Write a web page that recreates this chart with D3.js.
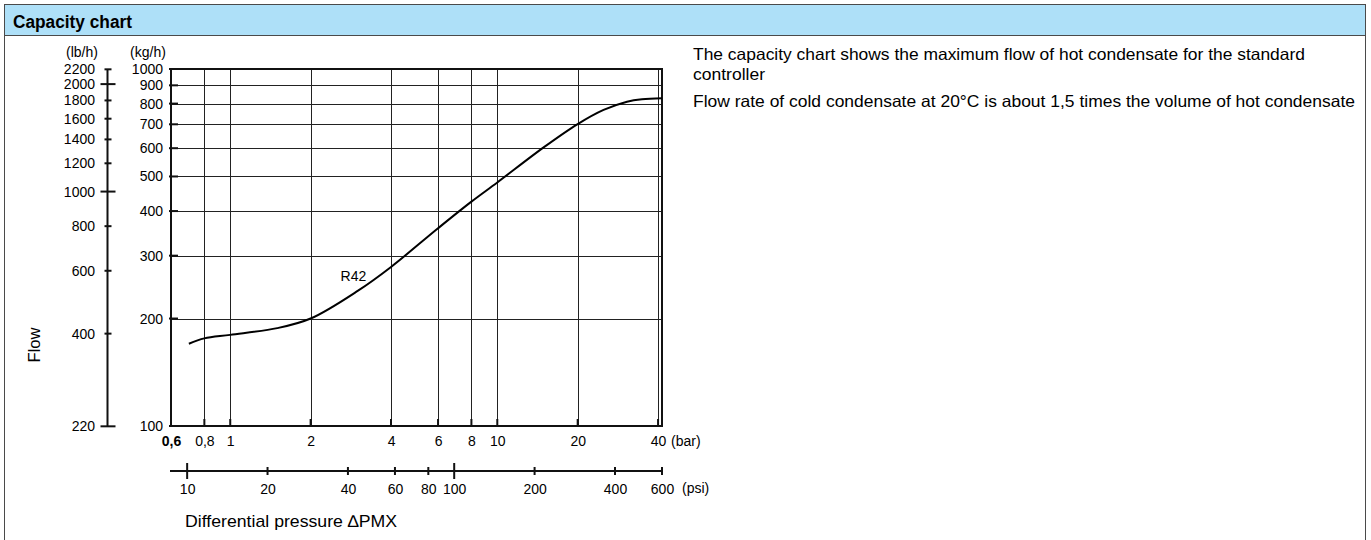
<!DOCTYPE html>
<html>
<head>
<meta charset="utf-8">
<script src="https://cdn.jsdelivr.net/npm/d3@7"></script>
<style>
  html, body { margin: 0; padding: 0; background: #fff; }
  svg { display: block; font-family: "Liberation Sans", Arial, sans-serif; }
</style>
</head>
<body>
<svg id="chart" width="1371" height="540"></svg>
<script>
// ---- data ----
const barTicks = [0.6, 0.8, 1, 2, 4, 6, 8, 10, 20, 40];
const barLabels = ["0,6", "0,8", "1", "2", "4", "6", "8", "10", "20", "40"];
const psiTicks = [10, 20, 40, 60, 80, 100, 200, 400, 600];
const psiLabels = ["10", "20", "40", "60", "80", "100", "200", "400", "600"];
const psiMajor = [10, 100];
const kgTicks = [100, 200, 300, 400, 500, 600, 700, 800, 900, 1000];
const lbTicks = [220, 400, 600, 800, 1000, 1200, 1400, 1600, 1800, 2000, 2200];
const lbMajor = [220, 1000, 2000];
const curveBar = [0.70, 0.80, 1.0, 1.5, 2.0, 3.0, 4.0, 6.0, 8.0, 10.0, 15.0, 20.0, 25.0, 30.6, 34.8, 41.38];
const curveKg  = [170, 176, 180, 188, 200, 239, 279, 358, 425, 481, 605, 701, 768, 810, 823, 828];
const seriesName = "R42";
const BAR_PER_PSI = 1 / 14.5;
const KG_PER_LB = 1 / 2.20462;
const paragraph = [
  "The capacity chart shows the maximum flow of hot condensate for the standard",
  "controller",
  "Flow rate of cold condensate at 20\u00B0C is about 1,5 times the volume of hot condensate"
];

(function () {
// ---- layout ----
const svg = d3.select("#chart");
const W = 1371, H = 540;
const ink = "#111";
const FONT = "Liberation Sans, Arial, sans-serif";
const FS = 14;

// outer frame + header
svg.append("rect").attr("x", 4.5).attr("y", 4.5).attr("width", 1361).attr("height", 31)
  .attr("fill", "#aee0f8").attr("stroke", "#4a4a4a").attr("stroke-width", 1);
svg.append("line").attr("x1", 4.5).attr("x2", 4.5).attr("y1", 35).attr("y2", H).attr("stroke", "#4a4a4a");
svg.append("line").attr("x1", 1365.5).attr("x2", 1365.5).attr("y1", 35).attr("y2", H).attr("stroke", "#4a4a4a");
svg.append("text").attr("x", 13).attr("y", 27.5).attr("font-weight", "bold").attr("font-size", 17.5)
  .attr("fill", "#000").attr("textLength", 119).attr("lengthAdjust", "spacingAndGlyphs").text("Capacity chart");

// paragraph text
const pY = [60, 80, 107];
const pLen = [612, 72, 662];
svg.append("g").selectAll("text").data(paragraph).join("text")
  .attr("x", 693).attr("y", (d, i) => pY[i])
  .attr("font-size", 16.5).attr("fill", "#000")
  .attr("textLength", (d, i) => pLen[i]).attr("lengthAdjust", "spacingAndGlyphs")
  .text(d => d);

// scales
const pL = 171, pR = 662, pT = 69, pB = 426;
const x = d3.scaleLog().domain([0.6, 600 * BAR_PER_PSI]).range([pL, pR]);
const xPsi = d3.scaleLog().domain([0.6 / BAR_PER_PSI, 600]).range([pL, pR]);
const y = d3.scaleLog().domain([100, 1000]).range([pB, pT]);
const yLb = d3.scaleLog().domain([100 / KG_PER_LB, 1000 / KG_PER_LB]).range([pB, pT]);

// grid
const grid = svg.append("g").attr("stroke", "#222").attr("stroke-width", 1);
grid.selectAll(".gx").data(barTicks.filter(v => v > 0.6)).join("line")
  .attr("x1", d => Math.round(x(d)) + 0.5).attr("x2", d => Math.round(x(d)) + 0.5)
  .attr("y1", pT).attr("y2", pB);
grid.selectAll(".gy").data(kgTicks.filter(v => v > 100 && v < 1000)).join("line")
  .attr("y1", d => Math.round(y(d)) + 0.5).attr("y2", d => Math.round(y(d)) + 0.5)
  .attr("x1", pL).attr("x2", pR);

// inner tick stubs
const stubs = svg.append("g").attr("stroke", ink).attr("stroke-width", 2);
stubs.selectAll(".sx").data(barTicks).join("line")
  .attr("x1", d => x(d)).attr("x2", d => x(d)).attr("y1", pB).attr("y2", pB - 7);
stubs.selectAll(".sy").data(kgTicks).join("line")
  .attr("y1", d => y(d)).attr("y2", d => y(d)).attr("x1", pL - 2).attr("x2", pL + 7);

// plot frame
svg.append("rect").attr("x", pL).attr("y", pT).attr("width", pR - pL).attr("height", pB - pT)
  .attr("fill", "none").attr("stroke", ink).attr("stroke-width", 2);

// kg axis labels
const kgAxis = d3.axisLeft(y).tickValues(kgTicks).tickFormat(d3.format("d")).tickSize(0).tickPadding(0);
svg.append("g").attr("transform", `translate(${163},0)`).call(kgAxis)
  .call(g => g.select(".domain").remove())
  .call(g => g.selectAll("text").attr("font-size", FS).attr("font-family", FONT).attr("fill", "#000"));
svg.append("text").attr("x", 148).attr("y", 57).attr("text-anchor", "middle").attr("font-size", FS).text("(kg/h)");

// lb axis
const lbX = 107.5;
svg.append("line").attr("x1", lbX).attr("x2", lbX).attr("y1", yLb(2200)).attr("y2", yLb(220))
  .attr("stroke", ink).attr("stroke-width", 2);
svg.append("g").attr("stroke", ink).attr("stroke-width", 2).selectAll("line").data(lbTicks).join("line")
  .attr("y1", d => yLb(d)).attr("y2", d => yLb(d))
  .attr("x1", d => lbMajor.includes(d) ? lbX - 7 : lbX - 3)
  .attr("x2", d => lbMajor.includes(d) ? lbX + 8 : lbX + 4);
const lbAxis = d3.axisLeft(yLb).tickValues(lbTicks).tickFormat(d3.format("d")).tickSize(0).tickPadding(0);
svg.append("g").attr("transform", `translate(${95},0)`).call(lbAxis)
  .call(g => g.select(".domain").remove())
  .call(g => g.selectAll("text").attr("font-size", FS).attr("font-family", FONT).attr("fill", "#000"));
svg.append("text").attr("x", 82).attr("y", 57).attr("text-anchor", "middle").attr("font-size", FS).text("(lb/h)");

// Flow label
svg.append("text").attr("transform", "translate(40,345) rotate(-90)").attr("text-anchor", "middle")
  .attr("font-size", 16.5).text("Flow");

// bar axis labels
const barAxis = d3.axisBottom(x).tickValues(barTicks).tickFormat((d, i) => barLabels[i]).tickSize(0).tickPadding(0);
svg.append("g").attr("transform", `translate(0,${436})`).call(barAxis)
  .call(g => g.select(".domain").remove())
  .call(g => g.selectAll("text").attr("font-size", FS).attr("font-family", FONT).attr("fill", "#000")
    .attr("font-weight", (d, i) => i === 0 ? "bold" : "normal"));
svg.append("text").attr("x", 671).attr("y", 446).attr("font-size", FS).text("(bar)");

// psi axis
const psiY = 471;
svg.append("line").attr("x1", 170).attr("x2", xPsi(600) + 1).attr("y1", psiY).attr("y2", psiY)
  .attr("stroke", ink).attr("stroke-width", 2);
svg.append("g").attr("stroke", ink).attr("stroke-width", 2).selectAll("line").data(psiTicks).join("line")
  .attr("x1", d => xPsi(d)).attr("x2", d => xPsi(d))
  .attr("y1", d => psiMajor.includes(d) ? psiY - 8 : psiY - 4)
  .attr("y2", d => psiMajor.includes(d) ? psiY + 8 : psiY + 4);
const psiAxis = d3.axisBottom(xPsi).tickValues(psiTicks).tickFormat((d, i) => psiLabels[i]).tickSize(0).tickPadding(0);
svg.append("g").attr("transform", `translate(0,${484})`).call(psiAxis)
  .call(g => g.select(".domain").remove())
  .call(g => g.selectAll("text").attr("font-size", FS).attr("font-family", FONT).attr("fill", "#000"));
svg.append("text").attr("x", 682).attr("y", 493).attr("font-size", FS).text("(psi)");

svg.append("text").attr("x", 185).attr("y", 527).attr("font-size", 17)
  .attr("textLength", 212).attr("lengthAdjust", "spacingAndGlyphs")
  .text("Differential pressure \u2206PMX");

// curve
const pts = curveBar.map((b, i) => ({ bar: b, kg: curveKg[i] }));
const line = d3.line().x(d => x(d.bar)).y(d => y(d.kg)).curve(d3.curveCatmullRom.alpha(0.5));
svg.append("path").datum(pts).attr("d", line).attr("fill", "none").attr("stroke", "#000").attr("stroke-width", 2);

// series label
svg.append("text").attr("x", x(2.59)).attr("y", y(255)).attr("font-size", 14).text(seriesName);
})();
</script>
</body>
</html>
